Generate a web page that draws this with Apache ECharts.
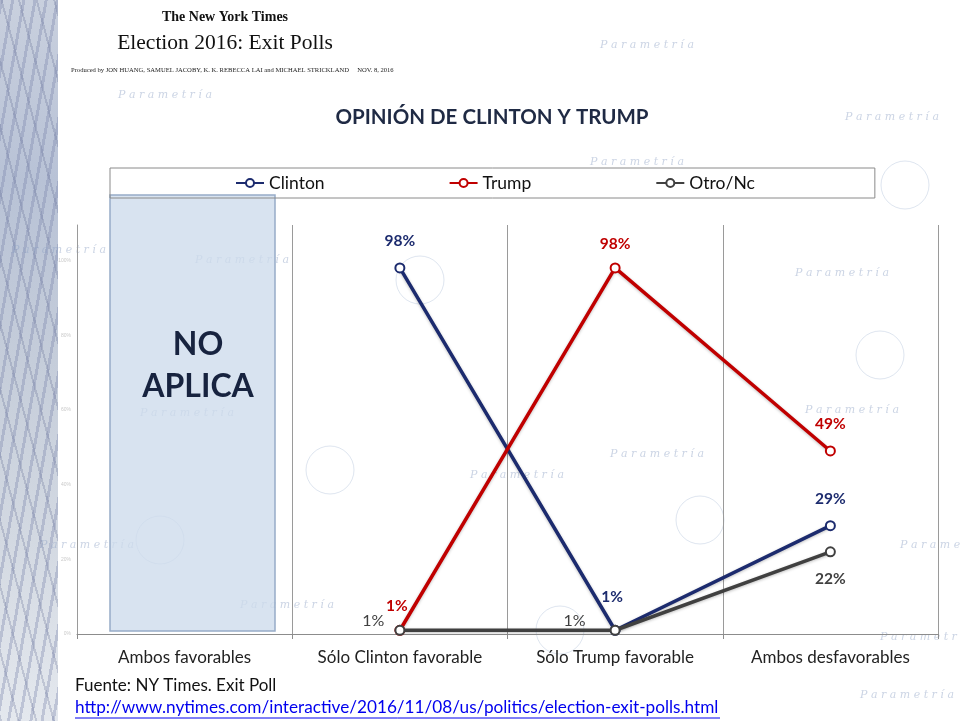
<!DOCTYPE html>
<html>
<head>
<meta charset="utf-8">
<script src="https://cdn.jsdelivr.net/npm/echarts@6/dist/echarts.min.js"></script>
<style>
html,body{margin:0;padding:0;width:961px;height:721px;overflow:hidden;background:#fff;}
#strip{position:absolute;left:0;top:0;width:58px;height:721px;
background:
 repeating-linear-gradient(100deg, rgba(120,130,170,0.35) 0 3px, rgba(255,255,255,0) 3px 11px),
 repeating-linear-gradient(75deg, rgba(90,100,140,0.25) 0 2px, rgba(255,255,255,0) 2px 17px),
 linear-gradient(180deg,#c9d0de 0%,#b8c2d6 25%,#c5cdda 50%,#d3d9e2 75%,#e4e8ee 100%);}
#chart{position:absolute;left:0;top:0;width:961px;height:721px;}
</style>
</head>
<body>
<div id="strip"></div>
<div id="chart"></div>
<script>
const categories = ['Ambos favorables', 'Sólo Clinton favorable', 'Sólo Trump favorable', 'Ambos desfavorables'];
const seriesNames = ['Clinton', 'Trump', 'Otro/Nc'];
const clinton = [null, 98, 1, 29];
const trump = [null, 1, 98, 49];
const otro = [null, 1, 1, 22];
const yTicks = [0, 20, 40, 60, 80, 100];

const colors = ['#1c2b6e', '#c00000', '#404040'];
const FONT = 'Lato';

// label placement per point (style only)
const labelCfg = [
  [null, {position:'top', distance:13}, {position:'top', distance:20, offset:[-3,0]}, {position:'top', distance:13}],
  [null, {position:'top', distance:11, offset:[-3,0]}, {position:'top', distance:10}, {position:'top', distance:13}],
  [null, {position:'left', distance:10, offset:[0,-9], fontWeight:'normal', fontSize:16}, {position:'left', distance:24, offset:[0,-9], fontWeight:'normal', fontSize:16}, {position:'bottom', distance:14}]
];

function buildData(vals, si) {
  return vals.map((v, i) => {
    if (v === null) return null;
    const c = labelCfg[si][i] || {};
    return {
      value: v,
      label: Object.assign({show:true, formatter:'{c}%', color:colors[si], fontSize:15.5, fontWeight:'bold', fontFamily:FONT}, c)
    };
  });
}

const allVals = [clinton, trump, otro];
const series = allVals.map((vals, si) => ({
  name: seriesNames[si],
  type: 'line',
  data: buildData(vals, si),
  symbol: 'emptyCircle',
  symbolSize: 9,
  lineStyle: {width: 3.5, color: colors[si], shadowColor:'rgba(0,0,0,0.25)', shadowBlur:3, shadowOffsetY:1},
  itemStyle: {color: colors[si], borderColor: colors[si], borderWidth: 3},
  emphasis: {disabled: true},
  connectNulls: false,
  z: 3 + si
}));

const wm = [[600,40],[118,90],[845,112],[590,157],[195,255],[795,268],[12,245],[140,408],[805,405],[610,449],[470,470],[40,540],[900,540],[240,600],[880,632],[860,690]];
const watermarks = wm.map(p => ({
  type:'text', x:p[0], y:p[1], silent:true, z:-10,
  style:{text:'P a r a m e t r í a', font:'italic 11px "DejaVu Serif"', fill:'rgba(140,160,195,0.45)'}
}));
const circles = [[420,280],[700,520],[880,355],[160,540],[560,630],[905,185],[330,470]].map(p => ({
  type:'circle', silent:true, z:-10, shape:{cx:p[0], cy:p[1], r:24},
  style:{fill:'none', stroke:'rgba(160,180,210,0.35)', lineWidth:1}
}));

const chart = echarts.init(document.getElementById('chart'), null, {renderer:'canvas'});
chart.setOption({
  backgroundColor: 'transparent',
  animation: false,
  grid: {left: 77, right: 23, top: 225, bottom: 87},
  legend: {
    data: seriesNames,
    left: 110, top: 168,
    itemWidth: 28, itemHeight: 10, itemGap: 124,
    padding: [6, 120, 6, 125],
    borderColor: '#8a8a8a', borderWidth: 1,
    textStyle: {fontSize: 17.5, fontFamily: FONT, color: '#111'}
  },
  xAxis: {
    type: 'category',
    data: categories,
    boundaryGap: true,
    axisLine: {lineStyle: {color: '#8c8c8c', width: 1}},
    axisTick: {show: true, length: 5, lineStyle: {color: '#8c8c8c'}},
    axisLabel: {fontSize: 17, fontFamily: FONT, color: '#222', margin: 15},
    splitLine: {show: true, lineStyle: {color: '#9a9a9a', width: 1}}
  },
  yAxis: {
    type: 'value',
    min: 0, max: 109.5, interval: 20,
    axisLine: {show: true, lineStyle: {color: '#9a9a9a'}},
    axisTick: {show: false},
    splitLine: {show: false},
    axisLabel: {fontSize: 5, color: '#c9c9c9', formatter: v => yTicks.includes(v) ? v + '%' : '', showMaxLabel: false, margin: 6}
  },
  graphic: [
    ...watermarks,
    ...circles,
    {type:'text', x:225, y:10, style:{text:'The New York Times', font:'bold 14px "Liberation Serif"', fill:'#111', textAlign:'center'}},
    {type:'text', x:225, y:32, style:{text:'Election 2016: Exit Polls', font:'21.5px "Liberation Serif"', fill:'#111', textAlign:'center'}},
    {type:'text', x:71, y:67, style:{text:'Produced by JON HUANG, SAMUEL JACOBY, K. K. REBECCA LAI and MICHAEL STRICKLAND     NOV. 8, 2016', font:'6.6px "Liberation Serif"', fill:'#222'}},
    {type:'text', x:492, y:107, style:{text:'OPINIÓN DE CLINTON Y TRUMP', font:'bold 20.5px ' + FONT, fill:'#1f2a44', textAlign:'center'}},
    {type:'rect', z:1, shape:{x:110, y:195, width:165, height:436}, style:{fill:'rgba(205,219,236,0.78)', stroke:'#97acc8', lineWidth:1.5}},
    {type:'text', z:2, x:198, y:366, style:{text:'NO\nAPLICA', font:'bold 32px ' + FONT, fill:'#17233f', textAlign:'center', textVerticalAlign:'middle', lineHeight:42}},
    {type:'text', x:75, y:677, style:{text:'Fuente: NY Times. Exit Poll', font:'17px ' + FONT, fill:'#111'}},
    {type:'text', x:75, y:699, style:{text:'http://www.nytimes.com/interactive/2016/11/08/us/politics/election-exit-polls.html', font:'17.2px ' + FONT, fill:'#0000ee'}},
    {type:'line', shape:{x1:75, y1:718, x2:720, y2:718}, style:{stroke:'#0000ee', lineWidth:1}}
  ],
  series: series
});
</script>
</body>
</html>
